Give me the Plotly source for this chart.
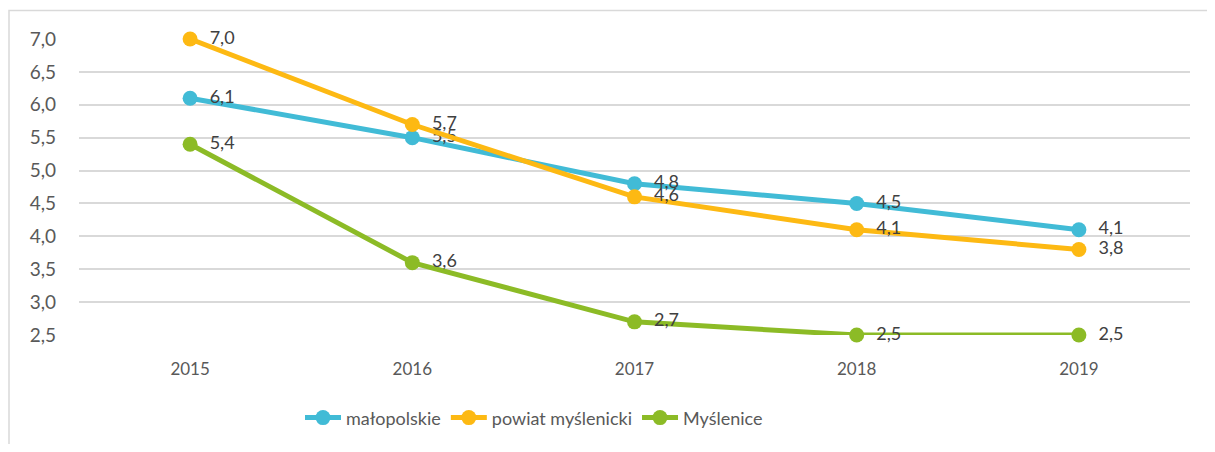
import plotly.graph_objects as go

years = ["2015", "2016", "2017", "2018", "2019"]
malopolskie = [6.1, 5.5, 4.8, 4.5, 4.1]
powiat = [7.0, 5.7, 4.6, 4.1, 3.8]
myslenice = [5.4, 3.6, 2.7, 2.5, 2.5]
series_names = ["małopolskie", "powiat myślenicki", "Myślenice"]
colors = ["#41BBD6", "#FDB913", "#8CBB26"]
y_ticks = [2.5, 3.0, 3.5, 4.0, 4.5, 5.0, 5.5, 6.0, 6.5, 7.0]

def fmt(v):
    return f"{v:.1f}".replace(".", ",")

fig = go.Figure()
for name, vals, col in zip(series_names, [malopolskie, powiat, myslenice], colors):
    fig.add_trace(go.Scatter(
        x=years, y=vals, name=name, mode="lines+markers+text",
        line=dict(color=col, width=5),
        marker=dict(color=col, size=15),
        text=["\u00a0\u00a0" + fmt(v) for v in vals], textposition="middle right",
        textfont=dict(family="Lato", size=18, color="#404040"),
        cliponaxis=False,
    ))

# page body has an 8px margin; figure coordinates below are relative to it
W, H = 1199, 436
L, T = 71, 31
pw, ph = 1111, 296
R, B = W - L - pw, H - T - ph

fig.update_layout(
    width=W, height=H,
    margin=dict(l=L, r=R, t=T, b=B, autoexpand=False),
    plot_bgcolor="white", paper_bgcolor="white",
    font=dict(family="Lato", size=17, color="#595959"),
    showlegend=True,
    legend=dict(orientation="h", x=(526 - L) / pw, xanchor="center", y=-0.28, yanchor="middle",
                font=dict(size=18, color="#595959"), itemwidth=36, tracegroupgap=0),
    xaxis=dict(type="category", range=[-0.5, 4.5], showgrid=False, zeroline=False, showline=False,
               tickfont=dict(size=17, color="#595959"), ticklabelstandoff=22, automargin=False),
    yaxis=dict(range=[2.5, 7.0], tickvals=y_ticks, ticktext=[fmt(v) for v in y_ticks],
               showgrid=True, gridcolor="#D9D9D9", gridwidth=1.5, zeroline=False, showline=False,
               tickfont=dict(size=19, color="#595959"), ticklabelstandoff=22, automargin=False),
    shapes=[dict(type="rect", xref="paper", yref="paper",
                 x0=(1 - L) / pw, x1=(1300 - L) / pw,
                 y0=(T + ph - 600) / ph, y1=(T + ph - 2.5) / ph,
                 line=dict(color="#D9D9D9", width=1.5), fillcolor="rgba(0,0,0,0)", layer="below")],
)
fig.write_html("out.html")
